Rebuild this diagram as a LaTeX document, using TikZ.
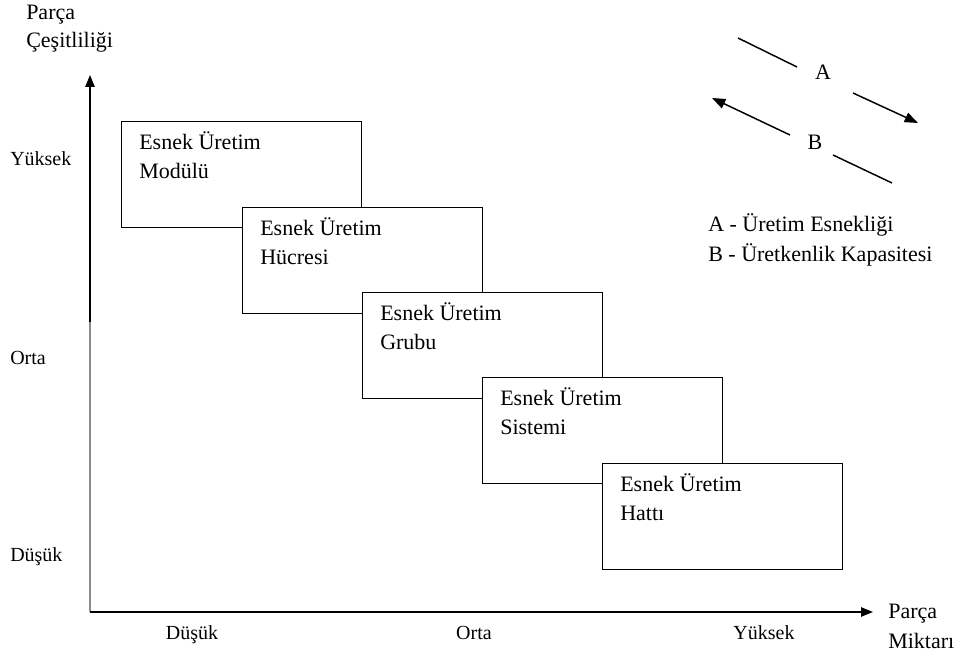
\documentclass[tikz,border=0pt]{standalone}
\usepackage{fontspec}
\setmainfont{Liberation Serif}
\usetikzlibrary{arrows.meta}
\begin{document}
\begin{tikzpicture}[x=0.75pt,y=-0.75pt,
  box/.style={draw, line width=1pt, fill=white, minimum width=180pt, minimum height=79.5pt, anchor=north west, inner sep=0pt},
  boxtext/.style={anchor=base west, align=left, font=\fontsize{16.5}{21.75}\selectfont, inner sep=0pt},
  lbl/.style={font=\fontsize{16.5}{21.75}\selectfont, inner sep=0pt},
  ticklbl/.style={font=\fontsize{15}{18}\selectfont, inner sep=0pt},
  axisarrow/.style={line width=1.1pt, -{Triangle[length=9pt,width=7pt]}},
  legarrow/.style={line width=1.1pt, -{Triangle[length=10pt,width=7.5pt]}},
  legline/.style={line width=1.1pt},
]
\useasboundingbox (0,0) rectangle (958,655);

% axes
\coordinate (O) at (90,612);
\coordinate (ymid) at (90,322);
\coordinate (ytip) at (90,75);
\coordinate (xtip) at (873,612);
\draw[line width=1.1pt, black!45] (O) -- (ymid);
\draw[axisarrow] (ymid) -- (ytip);
\draw[axisarrow] (O) -- (xtip);

% axis titles
\node[lbl, anchor=base west] (yt1) at (26,20) {Parça};
\node[lbl, anchor=base west] (yt2) at (26,48) {Çeşitliliği};
\node[lbl, anchor=base west] (xt1) at (888,619) {Parça};
\node[lbl, anchor=base west] (xt2) at (888,649) {Miktarı};

% tick labels
\node[ticklbl, anchor=base west] (yhigh) at (10,166) {Yüksek};
\node[ticklbl, anchor=base west] (ymed) at (10,365) {Orta};
\node[ticklbl, anchor=base west] (ylow) at (10,562) {Düşük};
\node[ticklbl, anchor=base] (xlow) at (192,640) {Düşük};
\node[ticklbl, anchor=base] (xmed) at (474,640) {Orta};
\node[ticklbl, anchor=base] (xhigh) at (764,640) {Yüksek};

% boxes
\node[box] (b1) at (121,121) {};
\node[boxtext] (t1) at ([xshift=13.5pt,yshift=-43.5pt]b1.north west) {Esnek Üretim\\Modülü};
\node[box] (b2) at (242,207) {};
\node[boxtext] (t2) at ([xshift=13.5pt,yshift=-43.5pt]b2.north west) {Esnek Üretim\\Hücresi};
\node[box] (b3) at (362,292) {};
\node[boxtext] (t3) at ([xshift=13.5pt,yshift=-43.5pt]b3.north west) {Esnek Üretim\\Grubu};
\node[box] (b4) at (482,377) {};
\node[boxtext] (t4) at ([xshift=13.5pt,yshift=-43.5pt]b4.north west) {Esnek Üretim\\Sistemi};
\node[box] (b5) at (602,463) {};
\node[boxtext] (t5) at ([xshift=13.5pt,yshift=-43.5pt]b5.north west) {Esnek Üretim\\Hattı};

% legend
\coordinate (a1s) at (738,38);
\coordinate (a1e) at (797,67);
\coordinate (a2s) at (853,93);
\coordinate (a2e) at (918,123);
\coordinate (b1s) at (790,135);
\coordinate (b1e) at (712,98);
\coordinate (b2s) at (833,155);
\coordinate (b2e) at (892,183);
\draw[legline] (a1s) -- (a1e);
\draw[legarrow] (a2s) -- (a2e);
\draw[legarrow] (b1s) -- (b1e);
\draw[legline] (b2s) -- (b2e);
\node[lbl] (A) at (823,72) {A};
\node[lbl] (B) at (815,142) {B};
\node[lbl, anchor=base west] (legA) at (708,232) {A - Üretim Esnekliği};
\node[lbl, anchor=base west] (legB) at (708,262) {B - Üretkenlik Kapasitesi};
\end{tikzpicture}
\end{document}
